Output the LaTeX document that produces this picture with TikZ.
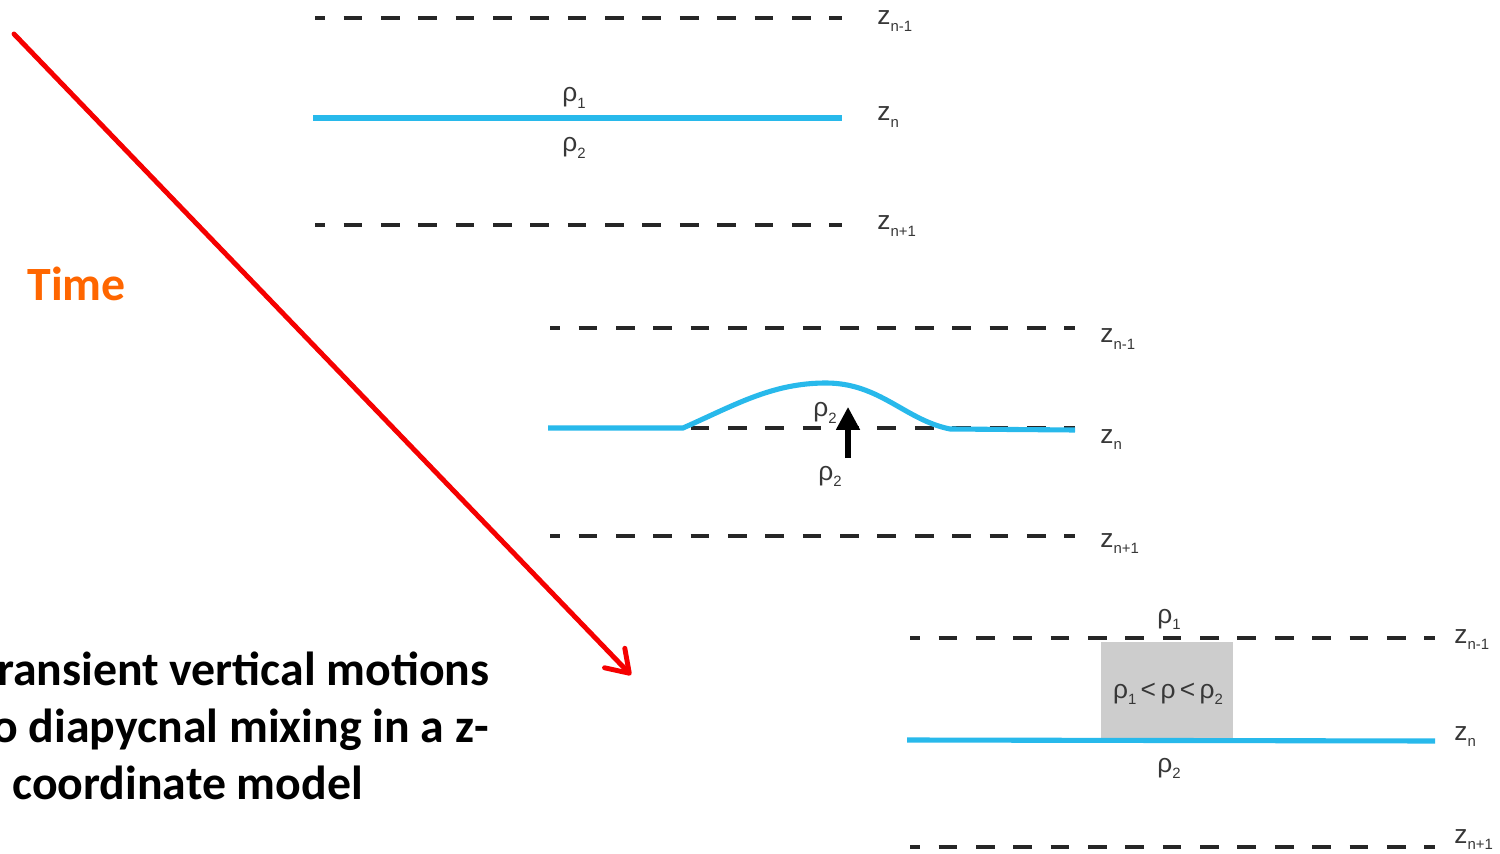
\documentclass[tikz,border=0pt]{standalone}
\usepackage{fontspec}
\setmainfont{Liberation Sans}
\newfontfamily\calib{Carlito}
\usetikzlibrary{arrows.meta}
\definecolor{layerblue}{RGB}{40,185,235}
\definecolor{timered}{RGB}{245,0,0}
\definecolor{timeorange}{RGB}{255,102,0}
\definecolor{labgray}{RGB}{55,55,55}
\definecolor{boxgray}{RGB}{205,205,205}
\newcommand\sbx[2]{#1\raisebox{-0.45ex}{\fontsize{8.5}{8.5}\selectfont #2}}
\begin{document}
\begin{tikzpicture}[x=0.02cm,y=-0.02cm,
  level/.style={line width=2.2pt, black!85, dash pattern=on 10.63pt off 10.63pt, dash phase=4.96pt},
  iface/.style={line width=2.9pt, layerblue},
  lab/.style={inner sep=0pt, text=labgray, font=\fontsize{15}{15}\selectfont},
  title/.style={inner sep=0pt, font=\calib\bfseries\fontsize{27.2}{32}\selectfont},
  timearrow/.style={line width=2.8pt, timered, line cap=round, -{Straight Barb[length=12pt,width=16pt,line width=2.8pt,round]}},
  uparrow/.style={line width=2.9pt, black, -{Triangle[length=13pt,width=13pt]}},
  mixbox/.style={fill=boxgray, inner sep=0pt, minimum width=2.64cm, minimum height=1.92cm}]
\clip (0,0) rectangle (1500,854);
\useasboundingbox (0,0) rectangle (1500,854);

% ---------- panel 1 ----------
\draw[level] (315,18) -- (842,18);
\draw[iface] (313,118) -- (842,118);
\draw[level] (315,225) -- (842,225);
\node[lab, anchor=base west] (p1r1) at (562,102) {\sbx{ρ}{1}};
\node[lab, anchor=base west] (p1r2) at (562,152) {\sbx{ρ}{2}};
\node[lab, anchor=base west] (p1za) at (877,25) {\sbx{z}{n-1}};
\node[lab, anchor=base west] (p1zb) at (877,121) {\sbx{z}{n}};
\node[lab, anchor=base west] (p1zc) at (877,230) {\sbx{z}{n+1}};

% ---------- panel 2 ----------
\draw[level] (550,328) -- (1075,328);
\draw[level] (550,428) -- (1075,428);
\draw[iface] (548,428) -- (683,428)
  .. controls (735,405) and (772,383) .. (826,383)
  .. controls (880,383) and (905,420) .. (950,429) -- (1075,430);
\draw[level] (550,536) -- (1075,536);
\coordinate (ua) at (848,458);
\coordinate (ub) at (848,407);
\draw[uparrow] (ua) -- (ub);
\node[lab, anchor=base west] (p2r1) at (813,417) {\sbx{ρ}{2}};
\node[lab, anchor=base west] (p2r2) at (818,480) {\sbx{ρ}{2}};
\node[lab, anchor=base west] (p2za) at (1100,343) {\sbx{z}{n-1}};
\node[lab, anchor=base west] (p2zb) at (1100,443) {\sbx{z}{n}};
\node[lab, anchor=base west] (p2zc) at (1100,547) {\sbx{z}{n+1}};

% ---------- panel 3 ----------
\node[mixbox] (mix) at (1167,690) {};
\node[lab, anchor=base] (mixt) at (1168,698) {\sbx{ρ}{1}\,<\,ρ\,<\,\sbx{ρ}{2}};
\draw[level] (910,638) -- (1435,638);
\draw[iface] (907,740) -- (1435,741);
\draw[level] (910,847) -- (1435,847);
\node[lab, anchor=base west] (p3r1) at (1157,623) {\sbx{ρ}{1}};
\node[lab, anchor=base west] (p3r2) at (1157,772) {\sbx{ρ}{2}};
\node[lab, anchor=base west] (p3za) at (1454,643) {\sbx{z}{n-1}};
\node[lab, anchor=base west] (p3zb) at (1454,740) {\sbx{z}{n}};
\node[lab, anchor=base west] (p3zc) at (1454,843) {\sbx{z}{n+1}};

% ---------- time arrow and texts ----------
\coordinate (ta) at (14,34);
\coordinate (tb) at (631,675);
\draw[timearrow] (ta) -- (tb);
\node[title, text=timeorange, anchor=base west] (time) at (27,301) {Time};
\node[title, anchor=base east] (t1) at (490,685) {ransient vertical motions};
\node[title, anchor=base east] (t2) at (489,742) {o diapycnal mixing in a z-};
\node[title, anchor=base west] (t3) at (12,799) {coordinate model};
\end{tikzpicture}
\end{document}
